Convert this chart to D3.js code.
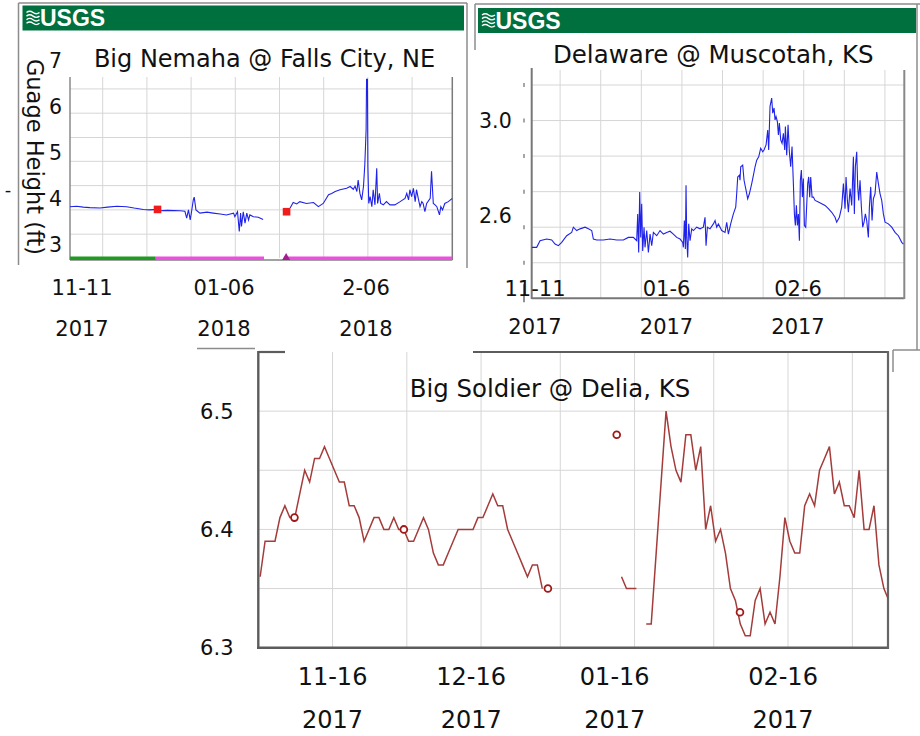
<!DOCTYPE html>
<html>
<head>
<meta charset="utf-8">
<style>
body { margin: 0; background: #fff; }
svg { display: block; font-family: "DejaVu Sans", sans-serif; }
</style>
</head>
<body>
<svg id="chart" width="920" height="736"></svg>
<script src="https://cdn.jsdelivr.net/npm/d3@7/dist/d3.min.js"></script>
<script>
// ---- Big Nemaha @ Falls City, NE  (days since 2017-11-11, gage height ft)
var nemahaStart = new Date(2017, 10, 11);
var nemahaEarly = [[0,3.82],[1.5,3.83],[3.0,3.81],[4.5,3.80],[6.8,3.79],[8.5,3.81],[10.6,3.83],[12.8,3.82],[14.5,3.79],
  [16.6,3.76],[18,3.75],[19.8,3.76],[20.4,3.73],[22,3.74],[24.9,3.73],[26.0,3.72],[26.4,3.57],[26.8,3.75],[27.2,3.53],
  [27.5,3.71],[27.9,3.97],[28.1,4.03],[28.5,3.75],[29.0,3.71],[29.4,3.68],[31,3.70],[32.4,3.68],[34,3.66],[35.4,3.64],
  [37.0,3.68],[37.3,3.60],[37.9,3.71],[38.3,3.28],[38.6,3.68],[38.8,3.39],[39.2,3.71],[39.6,3.46],[40.0,3.68],
  [40.4,3.53],[40.7,3.64],[41.5,3.60],[42.6,3.59],[43.7,3.54]];
var nemahaLate = [[49.8,3.79],[50.5,3.91],[51.3,3.88],[52.0,3.93],[53.5,3.89],[55.1,3.91],[56.2,3.82],[57.3,3.89],
  [58.5,4.08],[59.2,4.11],[60.0,4.15],[61.1,4.19],[62.6,4.22],[63.4,4.26],[64.1,4.20],[64.5,4.27],[64.9,4.15],
  [65.2,4.40],[65.6,4.11],[66.0,3.97],[66.4,4.26],[66.7,4.73],[67.0,5.50],[67.1,6.6],[67.3,6.6],[67.4,4.69],
  [67.6,3.89],[67.9,4.04],[68.3,3.82],[68.6,4.19],[69.0,3.86],[69.4,4.66],[69.6,3.89],[70.0,4.11],[70.3,3.89],
  [70.9,3.86],[71.6,3.93],[72.4,3.86],[73.5,3.86],[74.7,3.93],[75.8,4.00],[76.2,4.11],[76.6,3.97],[76.9,4.19],
  [77.3,4.04],[77.7,4.22],[78.1,3.93],[78.4,4.19],[78.8,4.00],[79.2,3.82],[79.6,3.93],[79.9,3.89],[80.3,3.71],
  [80.7,3.89],[81.5,4.00],[81.8,4.59],[82.2,3.89],[82.6,3.86],[83.0,3.82],[83.6,3.64],[83.9,3.82],[84.3,3.75],
  [84.8,3.89],[85.6,3.93],[86.5,4.00]];
var nemahaMarks = [[19.8, 3.76], [49.0, 3.71]];
var nemahaApproved = [[0, 19.4]];
var nemahaProvisional = [[19.4, 43.9], [48.4, 86.5]];
var nemahaEdits = [48.9];
var nemahaYTicks = [3, 4, 5, 6, 7];
var nemahaGrid = [3.22, 3.75, 4.28, 4.81, 5.33, 5.86, 6.39];
var nemahaDates = ["11-11", "01-06", "2-06"];
var nemahaYears = ["2017", "2018", "2018"];

// ---- Delaware @ Muscotah, KS  (days since 2017-11-30)
var delawareStart = new Date(2017, 10, 30);
var delawareReadings = [[0,2.465],[1.23,2.465],[2.05,2.493],[3.69,2.5],[4.93,2.496],[5.75,2.479],[6.57,2.472],
  [7.39,2.486],[8.62,2.514],[9.85,2.528],[10.26,2.55],[11.08,2.536],[11.9,2.543],[13.14,2.55],[13.96,2.543],
  [14.78,2.536],[15.19,2.5],[16.01,2.496],[17.65,2.496],[19.29,2.5],[20.94,2.496],[22.58,2.496],[23.81,2.507],
  [25.04,2.507],[25.86,2.493],[26.11,2.606],[26.35,2.443],[26.6,2.698],[26.85,2.507],[27.09,2.649],[27.34,2.45],
  [27.67,2.55],[27.91,2.465],[28.33,2.536],[28.74,2.443],[29.15,2.521],[29.56,2.472],[29.97,2.528],[30.79,2.514],
  [31.61,2.536],[32.43,2.521],[33.25,2.528],[34.07,2.533],[34.89,2.521],[35.71,2.507],[36.54,2.5],[37.19,2.486],
  [37.36,2.465],[37.6,2.578],[37.85,2.458],[38.01,2.727],[38.18,2.507],[38.42,2.422],[38.67,2.564],[39.0,2.493],
  [39.41,2.543],[39.82,2.536],[40.64,2.55],[41.46,2.543],[42.28,2.55],[42.69,2.592],[42.94,2.472],[43.27,2.55],
  [43.92,2.543],[44.75,2.564],[45.16,2.578],[45.57,2.55],[45.98,2.564],[46.8,2.536],[47.62,2.528],[48.03,2.571],
  [48.44,2.521],[49.01,2.564],[49.67,2.606],[50.25,2.635],[50.49,2.691],[50.74,2.762],[51.15,2.769],[51.31,2.748],
  [51.48,2.805],[51.97,2.812],[52.3,2.748],[52.79,2.706],[53.2,2.67],[53.61,2.691],[54.19,2.734],[54.6,2.769],
  [55.01,2.805],[55.42,2.833],[55.91,2.847],[56.4,2.883],[56.9,2.868],[57.22,2.876],[57.72,2.897],[58.13,2.96],
  [58.37,2.876],[58.7,3.06],[59.11,3.095],[59.36,3.031],[59.69,3.053],[59.93,3.003],[60.18,3.017],[60.51,2.996],
  [60.76,2.939],[61.0,2.989],[61.33,2.918],[61.66,2.904],[61.99,2.946],[62.32,2.876],[62.48,2.975],[62.81,2.854],
  [63.14,2.982],[63.46,2.868],[63.79,2.805],[64.12,2.89],[64.45,2.734],[64.7,2.606],[64.94,2.557],[65.19,2.642],
  [65.44,2.557],[65.68,2.606],[65.93,2.493],[66.17,2.748],[66.42,2.791],[66.67,2.677],[66.91,2.755],[67.16,2.557],
  [67.49,2.55],[67.73,2.642],[67.98,2.734],[68.23,2.762],[68.47,2.677],[68.72,2.762],[69.05,2.677],[69.38,2.677],
  [69.79,2.663],[70.61,2.656],[71.43,2.649],[72.25,2.642],[73.07,2.628],[73.89,2.613],[74.71,2.592],[75.12,2.571],
  [75.78,2.592],[76.35,2.635],[76.77,2.734],[77.18,2.628],[77.42,2.762],[77.75,2.663],[78.0,2.613],[78.41,2.713],
  [78.82,2.642],[79.23,2.847],[79.47,2.606],[79.72,2.805],[80.05,2.868],[80.3,2.72],[80.54,2.663],[80.87,2.748],
  [81.2,2.635],[81.53,2.55],[81.86,2.571],[82.18,2.606],[82.51,2.578],[82.92,2.507],[83.17,2.635],[83.5,2.72],
  [83.83,2.578],[84.15,2.67],[84.56,2.691],[84.98,2.783],[85.39,2.734],[85.8,2.691],[86.21,2.663],[86.62,2.606],
  [87.03,2.571],[87.85,2.564],[88.67,2.55],[89.49,2.528],[90.31,2.514],[90.72,2.5],[91.13,2.486],[91.54,2.479]];
var delawareYTicks = [3.0, 2.6];
var delawareGrid = [2.4, 2.55, 2.7, 2.85, 3.0, 3.15];
var delawareDates = ["11-11", "01-6", "02-6"];
var delawareYears = ["2017", "2017", "2017"];

// ---- Big Soldier @ Delia, KS  (one reading a day from 2017-11-01, null = missing)
var soldierStart = new Date(2017, 10, 1);
var soldierDaily = [6.36,6.39,6.39,6.39,6.41,6.42,6.41,6.41,6.43,6.45,6.44,6.46,6.46,6.47,6.46,6.45,6.44,6.44,
  6.42,6.42,6.41,6.39,6.40,6.41,6.41,6.40,6.40,6.41,6.40,6.40,6.39,6.39,6.40,6.41,6.40,6.38,6.37,6.37,6.38,6.39,
  6.40,6.40,6.40,6.40,6.41,6.41,6.42,6.43,6.42,6.42,6.40,6.39,6.38,6.37,6.36,6.37,6.37,6.35,
  null,null,null,null,null,null,null,null,null,null,null,null,null,null,null,
  6.36,6.35,6.35,6.35,null,6.32,6.32,6.38,6.44,6.50,6.47,6.45,6.44,6.48,6.48,6.45,6.47,6.40,6.42,6.39,6.40,6.38,
  6.35,6.34,6.32,6.31,6.31,6.34,6.35,6.32,6.33,6.32,6.36,6.41,6.39,6.38,6.38,6.42,6.43,6.42,6.45,6.46,6.47,6.43,
  6.44,6.42,6.42,6.41,6.45,6.40,6.40,6.42,6.37,6.35,6.34];
var soldierField = [[7.3, 6.41], [29.4, 6.40], [58.5, 6.35], [72.4, 6.48], [97.3, 6.33]];
var soldierYTicks = [6.3, 6.4, 6.5];
var soldierGrid = [6.35, 6.40, 6.45, 6.50];
var soldierDates = ["11-16", "12-16", "01-16", "02-16"];
var soldierLabelDays = [new Date(2017, 10, 16), new Date(2017, 11, 14), new Date(2018, 0, 12), new Date(2018, 1, 15)];
var soldierYears = ["2017", "2017", "2017", "2017"];

var svg = d3.select("#chart");
var DAY = 864e5;
function dayOf(start, d) { return new Date(+start + d * DAY); }

function seg(x1, y1, x2, y2, color, w) {
  svg.append("line").attr("x1", x1).attr("y1", y1).attr("x2", x2).attr("y2", y2)
    .attr("stroke", color).attr("stroke-width", w);
}

function usgsBar(x, y, w, h) {
  svg.append("rect").attr("x", x).attr("y", y).attr("width", w).attr("height", h).attr("fill", "#00703f");
  var lg = svg.append("g").attr("transform", "translate(" + (x + 4) + "," + (y + 5) + ")");
  for (var i = 0; i < 4; i++) {
    lg.append("path").attr("d", "M0," + (2 + i * 3.6) + " q3.2,-2.6 6.5,0 t6.5,0")
      .attr("fill", "none").attr("stroke", "#fff").attr("stroke-width", 1.4);
  }
  svg.append("text").attr("x", x + 17.5).attr("y", y + h - 4.5)
    .attr("font-family", "Liberation Sans Narrow, Liberation Sans, sans-serif")
    .attr("font-weight", "bold").attr("font-size", 23).attr("fill", "#fff").text("USGS");
}

function grid(id, x, y, xs, ys, top) {
  var r = x.range(), b = y.range()[0];
  var g = svg.append("g");
  g.selectAll(".v").data(xs).join("line")
    .attr("x1", function(d) { return x(d); }).attr("x2", function(d) { return x(d); })
    .attr("y1", top).attr("y2", b).attr("stroke", "#d6d6d6");
  g.selectAll(".h").data(ys).join("line")
    .attr("x1", r[0]).attr("x2", r[1])
    .attr("y1", function(d) { return y(d); }).attr("y2", function(d) { return y(d); })
    .attr("stroke", "#d6d6d6");
  svg.append("clipPath").attr("id", id).append("rect")
    .attr("x", r[0]).attr("y", top).attr("width", r[1] - r[0]).attr("height", b - top);
}

function label(txt, x, y, size, anchor) {
  return svg.append("text").attr("x", x).attr("y", y).attr("font-size", size)
    .attr("text-anchor", anchor || "middle").attr("fill", "#111").text(txt);
}

// ================= Panel 1: Big Nemaha =================
seg(18.5, 3, 18.5, 265, "#8c8c8c", 1.5);
seg(18.5, 3, 467, 3, "#8c8c8c", 1.5);
seg(467, 3, 467, 268, "#8c8c8c", 1.5);
usgsBar(22.5, 5.5, 441.5, 25);

var xN = d3.scaleTime().domain([nemahaStart, dayOf(nemahaStart, 86.5)]).range([70, 452.3]);
var yN = d3.scaleLinear().domain([2.7, 6.65]).range([258, 77]);
grid("clipN", xN, yN, d3.range(7.4, 86.5, 10).map(function(d) { return dayOf(nemahaStart, d); }), nemahaGrid, 77);

seg(70, 77, 70, 260, "#8a8a8a", 1.5);
seg(452.3, 77, 452.3, 260, "#7a7a7a", 1.5);
seg(70, 260, 452.3, 260, "#444", 1);

var lineN = d3.line()
  .x(function(d) { return xN(dayOf(nemahaStart, d[0])); })
  .y(function(d) { return yN(d[1]); });
[nemahaEarly, nemahaLate].forEach(function(s) {
  svg.append("path").attr("d", lineN(s)).attr("fill", "none").attr("stroke", "#1f22e8")
    .attr("stroke-width", 1.1).attr("clip-path", "url(#clipN)");
});

function statusBar(spans, color) {
  svg.append("g").selectAll("rect").data(spans).join("rect")
    .attr("x", function(d) { return xN(dayOf(nemahaStart, d[0])); })
    .attr("width", function(d) { return xN(dayOf(nemahaStart, d[1])) - xN(dayOf(nemahaStart, d[0])); })
    .attr("y", 256.5).attr("height", 3.5).attr("fill", color);
}
statusBar(nemahaApproved, "#1f9a22");
statusBar(nemahaProvisional, "#ee4fe0");
svg.append("g").selectAll("path").data(nemahaEdits).join("path")
  .attr("d", function(d) { var px = xN(dayOf(nemahaStart, d)); return "M" + (px - 4) + ",260 L" + px + ",253 L" + (px + 4) + ",260Z"; })
  .attr("fill", "#a0208f");

svg.append("g").selectAll("rect").data(nemahaMarks).join("rect")
  .attr("x", function(d) { return xN(dayOf(nemahaStart, d[0])) - 3.8; })
  .attr("y", function(d) { return yN(d[1]) - 3.8; })
  .attr("width", 7.6).attr("height", 7.6).attr("fill", "#f01c1c");

label("Big Nemaha @ Falls City, NE", 264.5, 67, 24);
svg.append("g").selectAll("text").data(nemahaYTicks).join("text")
  .attr("x", 62).attr("y", function(d) { return yN(d); }).attr("dy", "0.36em")
  .attr("text-anchor", "end").attr("font-size", 20.5).attr("fill", "#111").text(function(d) { return d; });
svg.append("text").attr("transform", "translate(35,157) rotate(90)")
  .attr("text-anchor", "middle").attr("dy", "0.36em").attr("font-size", 22.5).attr("fill", "#111")
  .text("Guage Height (ft)");
label("-", 8, 196, 18);

var pN = d3.scalePoint().domain(d3.range(nemahaDates.length)).range([82, 366]);
nemahaDates.forEach(function(t, i) { label(t, pN(i), 295, 21); });
nemahaYears.forEach(function(t, i) { label(t, pN(i), 336, 21); });

// ================= Panel 2: Delaware =================
seg(475, 4, 920, 4, "#8c8c8c", 1.5);
seg(475, 4, 475, 50, "#8c8c8c", 1.5);
seg(917, 4, 917, 350, "#8c8c8c", 1.5);
seg(893, 350, 920, 350, "#8c8c8c", 1.5);
seg(893, 350, 893, 372, "#8c8c8c", 1.5);
usgsBar(478, 8, 438, 25);

var xD = d3.scaleTime().domain([delawareStart, dayOf(delawareStart, 91.77)]).range([531.7, 904.3]);
var yD = d3.scaleLinear().domain([2.25, 3.15]).range([298.3, 85]);
grid("clipD", xD, yD, d3.range(9).map(function(k) { return d3.timeDay.offset(new Date(2017, 11, 7), 10 * k); }), delawareGrid, 70);

seg(531.7, 68, 531.7, 299, "#777", 2);
seg(531.7, 298.3, 904.3, 298.3, "#777", 2);
seg(904.3, 70, 904.3, 299, "#888", 2);
svg.append("g").selectAll("line").data(delawareGrid).join("line")
  .attr("x1", 524).attr("x2", 524)
  .attr("y1", function(d) { return yD(d) - 2; }).attr("y2", function(d) { return yD(d) + 2; })
  .attr("stroke", "#777").attr("stroke-width", 1.3);
seg(524, yD(2.25) - 14, 524, yD(2.25) + 4, "#555", 1.3);

var lineD = d3.line()
  .x(function(d) { return xD(dayOf(delawareStart, d[0])); })
  .y(function(d) { return yD(d[1]); });
svg.append("path").attr("d", lineD(delawareReadings)).attr("fill", "none").attr("stroke", "#1f22e8")
  .attr("stroke-width", 1.1).attr("clip-path", "url(#clipD)");

label("Delaware @ Muscotah, KS", 713.3, 63.3, 24.5);
svg.append("g").selectAll("text").data(delawareYTicks).join("text")
  .attr("x", 511.7).attr("y", function(d) { return yD(d); }).attr("dy", "0.36em")
  .attr("text-anchor", "end").attr("font-size", 20.5).attr("fill", "#111").text(function(d) { return d.toFixed(1); });

var pD = d3.scalePoint().domain(d3.range(delawareDates.length)).range([535, 798]);
delawareDates.forEach(function(t, i) { label(t, pD(i), 296, 21); });
delawareYears.forEach(function(t, i) { label(t, pD(i), 334, 21); });

// ================= Panel 3: Big Soldier =================
seg(197, 348.5, 255, 348.5, "#8c8c8c", 1.5);

var xS = d3.scaleTime().domain([soldierStart, dayOf(soldierStart, 127.2)]).range([258.3, 888]);
var yS = d3.scaleLinear().domain([6.30, 6.55]).range([647.7, 352]);
var soldierTicks = [];
d3.timeMonth.range(soldierStart, new Date(2018, 2, 2)).forEach(function(m) {
  soldierTicks.push(m, d3.timeDay.offset(m, 15));
});
soldierTicks = soldierTicks.filter(function(d) { return d > soldierStart && d < xS.domain()[1]; });
grid("clipS", xS, yS, soldierTicks, soldierGrid, 352);

seg(258.3, 352, 285, 352, "#5c5c5c", 2.2);
seg(473, 352, 888, 352, "#5c5c5c", 2.2);
seg(258.3, 351, 258.3, 648.8, "#5c5c5c", 2.4);
seg(257, 647.7, 889, 647.7, "#5c5c5c", 2.4);
seg(888, 351, 888, 648.8, "#666", 2.2);

var lineS = d3.line()
  .defined(function(d) { return d != null; })
  .x(function(d, i) { return xS(dayOf(soldierStart, i + 0.37)); })
  .y(function(d) { return yS(d); });
svg.append("path").attr("d", lineS(soldierDaily)).attr("fill", "none").attr("stroke", "#a33c3a")
  .attr("stroke-width", 1.5).attr("clip-path", "url(#clipS)");

svg.append("g").selectAll("circle").data(soldierField).join("circle")
  .attr("cx", function(d) { return xS(dayOf(soldierStart, d[0])); })
  .attr("cy", function(d) { return yS(d[1]); })
  .attr("r", 3.4).attr("fill", "#fff").attr("stroke", "#a01818").attr("stroke-width", 1.8);

label("Big Soldier @ Delia, KS", 550, 396.7, 24.4);
svg.append("g").selectAll("text").data(soldierYTicks).join("text")
  .attr("x", 233.5).attr("y", function(d) { return yS(d); }).attr("dy", "0.36em")
  .attr("text-anchor", "end").attr("font-size", 21).attr("fill", "#111").text(function(d) { return d.toFixed(1); });

soldierDates.forEach(function(t, i) { label(t, xS(soldierLabelDays[i]), 685, 24); });
soldierYears.forEach(function(t, i) { label(t, xS(soldierLabelDays[i]), 728, 24); });
</script>
</body>
</html>
